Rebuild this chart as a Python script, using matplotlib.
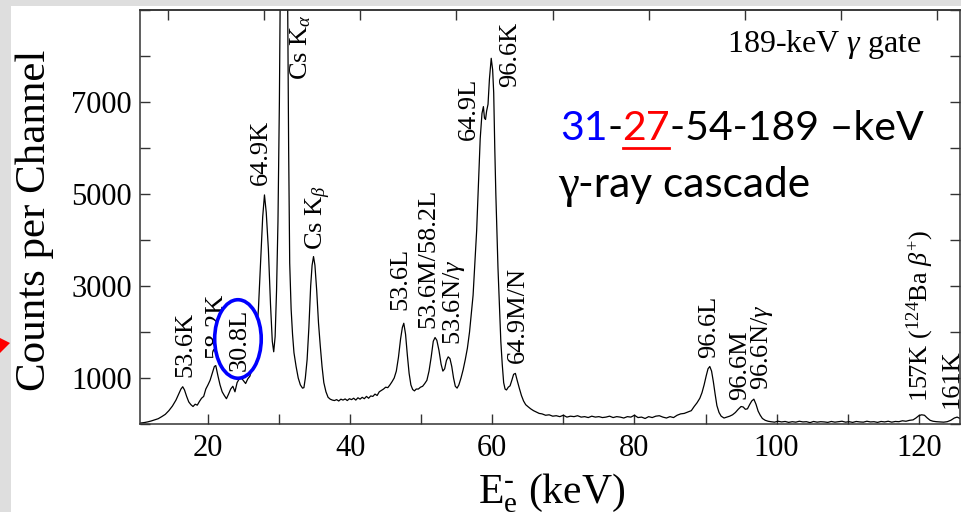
import matplotlib
matplotlib.use("Agg")
import matplotlib.pyplot as plt
from matplotlib.patches import Ellipse, Rectangle, Polygon
from matplotlib.lines import Line2D
from matplotlib.ticker import MultipleLocator, FuncFormatter

# ---------------------------------------------------------------
# Conversion-electron spectrum gated on the 189-keV gamma line
# ---------------------------------------------------------------
energy_kev = [
    10.44, 11.0, 11.5, 12.0, 12.5, 13.0, 13.5, 14.0, 14.5, 15.0,
    15.5, 15.9, 16.2, 16.45, 16.7, 17.0, 17.3, 17.6, 17.9, 18.2,
    18.5, 18.8, 19.1, 19.4, 19.7, 20.0, 20.3, 20.6, 20.9, 21.1,
    21.4, 21.7, 22.0, 22.3, 22.6, 22.9, 23.2, 23.5, 23.8, 24.1,
    24.4, 24.7, 25.0, 25.3, 25.6, 25.9, 26.2, 26.5, 26.8, 27.1,
    27.4, 27.7, 27.95, 28.2, 28.5, 28.8, 29.05, 29.25, 29.45, 29.65,
    29.85, 30.05, 30.25, 30.5, 30.75, 31.0, 31.2, 31.35, 31.5, 31.7,
    31.9, 32.1, 32.4, 32.7, 33.0, 33.3, 33.5, 33.7, 33.95, 34.2,
    34.45, 34.65, 34.85, 35.05, 35.3, 35.55, 35.8, 36.05, 36.3, 36.6,
    36.9, 37.2, 37.5, 37.8, 38.1, 38.4, 38.7, 39.0, 39.3, 39.6,
    39.9, 40.2, 40.5, 40.8, 41.1, 41.4, 41.7, 42.0, 42.3, 42.6,
    42.9, 43.2, 43.5, 43.8, 44.1, 44.4, 44.7, 45.0, 45.3, 45.6,
    45.9, 46.2, 46.5, 46.8, 47.1, 47.35, 47.55, 47.8, 48.05, 48.3,
    48.55, 48.8, 49.05, 49.3, 49.6, 49.9, 50.2, 50.5, 50.8, 51.1,
    51.4, 51.7, 51.95, 52.2, 52.5, 52.8, 53.05, 53.3, 53.55, 53.8,
    54.05, 54.3, 54.55, 54.8, 55.05, 55.3, 55.6, 55.9, 56.2, 56.5,
    56.8, 57.05, 57.3, 57.55, 57.8, 58.05, 58.3, 58.55, 58.75, 58.9,
    59.05, 59.2, 59.4, 59.6, 59.85, 60.05, 60.2, 60.35, 60.5, 60.65,
    60.8, 61.0, 61.2, 61.4, 61.6, 61.8, 62.0, 62.25, 62.5, 62.75,
    63.0, 63.25, 63.5, 63.8, 64.1, 64.4, 64.7, 65.0, 65.4, 65.8,
    66.2, 66.6, 67.0, 67.5, 68.0, 68.5, 69.0, 69.5, 70.0, 70.5,
    71.0, 71.5, 72.0, 72.5, 73.0, 73.5, 74.0, 74.5, 75.0, 75.5,
    76.0, 76.5, 77.0, 77.5, 78.0, 78.5, 79.0, 79.5, 80.0, 80.5,
    81.0, 81.5, 82.0, 82.5, 83.0, 83.5, 84.0, 84.5, 85.0, 85.5,
    86.0, 86.5, 87.0, 87.5, 88.0, 88.4, 88.8, 89.2, 89.5, 89.8,
    90.1, 90.35, 90.6, 90.85, 91.1, 91.35, 91.6, 91.9, 92.2, 92.6,
    93.0, 93.4, 93.8, 94.2, 94.6, 95.0, 95.3, 95.6, 95.9, 96.2,
    96.5, 96.8, 97.1, 97.4, 97.7, 98.0, 98.4, 98.8, 99.2, 99.7,
    100.2, 100.7, 101.2, 101.7, 102.2, 102.7, 103.2, 103.7, 104.2, 104.7,
    105.2, 105.7, 106.2, 106.7, 107.2, 107.7, 108.2, 108.7, 109.2, 109.7,
    110.2, 110.7, 111.2, 111.7, 112.2, 112.7, 113.2, 113.7, 114.2, 114.7,
    115.2, 115.7, 116.2, 116.7, 117.2, 117.7, 118.2, 118.7, 119.2, 119.6,
    120.0, 120.4, 120.8, 121.2, 121.6, 122.0, 122.5, 123.0, 123.5, 124.0,
    124.5, 125.0, 125.4, 125.8, 126.2,
]

counts = [
    20, 30, 45, 65, 90, 115, 160, 210, 290, 390,
    520, 660, 760, 810, 740, 600, 480, 420, 380, 430,
    410, 490, 560, 600, 760, 850, 950, 1100, 1250, 1270,
    1050, 850, 700, 620, 550, 650, 760, 820, 700, 900,
    980, 1000, 940, 880, 980, 1040, 1200, 1450, 1850, 2500,
    3500, 4500, 4980, 4600, 3800, 2600, 1800, 1570, 1900, 2900,
    4400, 7000, 11000, 14000, 15000, 13000, 9500, 6000, 3500, 2500,
    1950, 1550, 1250, 1000, 850, 780, 790, 1000, 1400, 2100,
    3000, 3450, 3640, 3450, 2900, 2200, 1700, 1250, 900, 700,
    580, 540, 520, 510, 530, 500, 540, 520, 545, 510,
    550, 530, 560, 520, 570, 540, 580, 550, 600, 560,
    610, 600, 650, 620, 700, 730, 760, 800, 790, 850,
    920, 1000, 1150, 1450, 1850, 2100, 2190, 1950, 1500, 1100,
    850, 750, 720, 760, 760, 800, 820, 880, 950, 1150,
    1450, 1800, 1880, 1820, 1600, 1300, 1150, 1200, 1380, 1460,
    1420, 1250, 1000, 820, 780, 850, 1000, 1180, 1400, 1650,
    2000, 2400, 2800, 3500, 4200, 5200, 6200, 6750, 6900, 6650,
    6620, 6800, 6950, 7500, 7950, 7700, 7200, 6000, 5000, 4200,
    3400, 2600, 1800, 1300, 900, 760, 740, 800, 830, 950,
    1080, 1100, 950, 780, 620, 500, 420, 380, 330, 290,
    260, 230, 220, 190, 200, 170, 180, 160, 190, 150,
    170, 160, 180, 150, 160, 140, 170, 150, 160, 140,
    150, 170, 140, 160, 150, 130, 160, 150, 190, 140,
    150, 120, 160, 140, 170, 180, 150, 130, 160, 140,
    190, 220, 230, 260, 290, 380, 460, 560, 680, 850,
    1050, 1200, 1250, 1150, 920, 650, 400, 250, 170, 130,
    150, 170, 200, 250, 320, 380, 370, 320, 330, 420,
    500, 540, 430, 280, 190, 120, 80, 60, 50, 40,
    60, 45, 55, 35, 50, 40, 60, 45, 50, 30,
    55, 40, 50, 45, 35, 55, 40, 50, 60, 40,
    50, 35, 55, 45, 40, 60, 45, 50, 35, 55,
    45, 60, 40, 55, 50, 70, 60, 80, 90, 130,
    180, 200, 190, 130, 80, 60, 50, 45, 40, 50,
    80, 130, 150, 120, 90,
]

peak_labels = [
    "53.6K", "58.2K", "64.9K", r"Cs K$_{\alpha}$", r"Cs K$_{\beta}$",
    "53.6L", "53.6M/58.2L", r"53.6N/$\gamma$", "64.9L", "96.6K",
    "64.9M/N", "96.6L", "96.6M", r"96.6N/$\gamma$",
    r"157K ($^{124}$Ba $\beta^{+}$)", "161K",
]
circled_label = "30.8L"
gate_text = r"189-keV $\gamma$ gate"
cascade_parts = ["31", "-", "27", "-54-189 \u2013keV"]
cascade_line2 = ["\u03b3", "-ray cascade"]

x_ticks_labelled = [20, 40, 60, 80, 100, 120]
y_ticks_labelled = [1000, 3000, 5000, 7000]

# ---------------------------------------------------------------
plt.rcParams["font.family"] = "Liberation Serif"
plt.rcParams["mathtext.fontset"] = "custom"
plt.rcParams["mathtext.rm"] = "Liberation Serif"
plt.rcParams["mathtext.it"] = "Liberation Serif:italic"
plt.rcParams["mathtext.bf"] = "Liberation Serif:bold"

W, H = 961, 512
fig = plt.figure(figsize=(W / 100, H / 100), dpi=100)
fig.patch.set_facecolor("#dedede")
fig.add_artist(Rectangle((11 / W, 0), (W - 11) / W, (H - 6) / H,
                         transform=fig.transFigure, facecolor="white",
                         edgecolor="none", zorder=-10))
fig.add_artist(Polygon([(0, 174 / H), (10 / W, 169 / H), (0, 159 / H)],
                       closed=True, transform=fig.transFigure,
                       facecolor="#ff0000", edgecolor="none", zorder=5))

ax = fig.add_axes([140 / W, 88 / H, 820 / W, 414 / H])
ax.set_xlim(10.44, 125.8)
ax.set_ylim(0, 9000)

ax.plot(energy_kev, counts, color="black", lw=0.9, zorder=2)

for side in ax.spines.values():
    side.set_linewidth(1.1)
    side.set_color("#333333")

ax.xaxis.set_major_locator(MultipleLocator(10))
ax.yaxis.set_major_locator(MultipleLocator(1000))
ax.xaxis.set_major_formatter(FuncFormatter(
    lambda v, p: f"{v:.0f}" if round(v) in x_ticks_labelled else ""))
ax.yaxis.set_major_formatter(FuncFormatter(
    lambda v, p: f"{v:.0f}" if round(v) in y_ticks_labelled else ""))
ax.tick_params(axis="both", direction="in", length=7.5, width=1.0,
               color="#333333", labelsize=22, right=True, top=False)
ax.tick_params(axis="x", pad=7)
ax.tick_params(axis="y", pad=6)

# channel scale along the top edge
top = ax.secondary_xaxis("top", functions=(lambda e: (e - 14.37) / 13.53,
                                            lambda c: c * 13.53 + 14.37))
top.set_xticks(range(0, 9))
top.tick_params(direction="in", length=7.5, width=1.0, color="#333333",
                labeltop=False)
top.spines["top"].set_linewidth(1.1)
top.spines["top"].set_color("#333333")

ax.set_ylabel("Counts per Channel", fontsize=31)
ax.yaxis.set_label_coords(-0.105, 0.493)
ax.set_xlabel(r"E$_{\mathrm{e}}^{\text{-}}$ (keV)", fontsize=30)
ax.xaxis.set_label_coords(0.502, -0.113)

# peak identifications (anchor = start of baseline, text reads upward)
label_anchor = [
    (17.71, 1028), (21.93, 1435), (28.26, 5196), (34.06, 7478),
    (36.22, 3780), (47.95, 2478), (51.79, 2080), (55.44, 1717),
    (57.55, 6174), (63.42, 7333), (64.44, 1319), (91.31, 1428),
    (95.67, 522), (98.80, 739), (121.17, 485), (125.5, 341),
]
for txt, (xe, yc) in zip(peak_labels, label_anchor):
    ax.text(xe, yc, txt, rotation=90, rotation_mode="anchor",
            ha="left", va="baseline", fontsize=19, zorder=3,
            clip_on=False)

ax.add_patch(Ellipse((24.22, 1848), width=6.55, height=1707,
                     facecolor="white", edgecolor="#0000ff", lw=2.6,
                     zorder=4))
ax.text(25.34, 1160, circled_label, rotation=90, rotation_mode="anchor",
        ha="left", va="baseline", fontsize=19, zorder=5)

ax.text(120.4, 8093, gate_text, ha="right", va="baseline", fontsize=23)

# cascade annotation
sans = ["Lato", "DejaVu Sans"]
colors = ["#0000ff", "black", "#ff0000", "black"]
prev = ax.text(69.5, 6174, cascade_parts[0], color=colors[0], fontsize=29.5,
               family=sans, ha="left", va="baseline")
pieces = [prev]
for part, col in zip(cascade_parts[1:], colors[1:]):
    prev = ax.annotate(part, xy=(1, 0), xycoords=prev, ha="left",
                       va="bottom", color=col, fontsize=29.5, family=sans)
    pieces.append(prev)

g = ax.text(69.2, 4935, cascade_line2[0], fontsize=34,
            family=["Liberation Serif"], ha="left", va="baseline")
fig.canvas.draw()
gb = g.get_window_extent()
g_base = ax.transData.transform((69.2, 4935))
ax.annotate(cascade_line2[1], xy=(gb.x1 - 1, g_base[1]),
            xycoords="figure pixels", fontsize=30.5, family=sans,
            ha="left", va="baseline")

fig.canvas.draw()
bb = pieces[2].get_window_extent()
base_y = ax.transData.transform((69.5, 6174))[1]
inv = fig.transFigure.inverted()
p0 = inv.transform((bb.x0 + 1, base_y - 8))
p1 = inv.transform((bb.x1 - 1, base_y - 8))
fig.add_artist(Line2D([p0[0], p1[0]], [p0[1], p1[1]],
                      transform=fig.transFigure, color="#ff0000", lw=2.0))

fig.savefig("out.png", dpi=100)
